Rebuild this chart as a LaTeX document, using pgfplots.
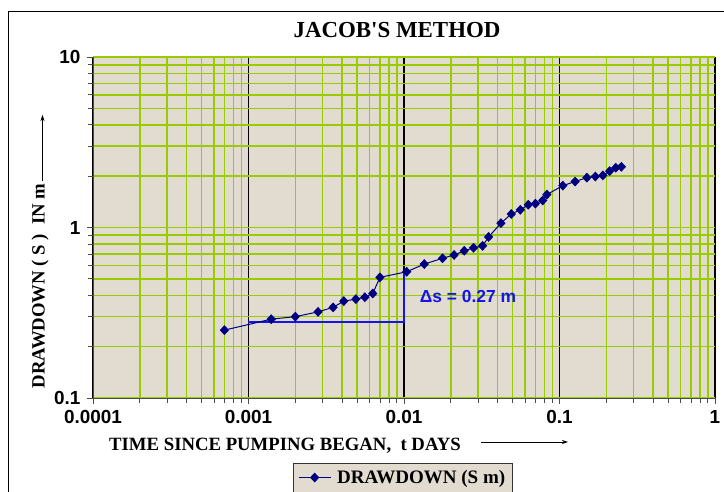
\documentclass[border=0pt]{standalone}
\usepackage{pgfplots}
\pgfplotsset{compat=1.18}
\usepackage{fontspec}
\setmainfont{Liberation Serif}
\setsansfont{Liberation Sans}
\newfontfamily\tnr{Liberation Serif}
\usetikzlibrary{arrows.meta}
\definecolor{bgbeige}{RGB}{226,220,208}
\definecolor{gridgreen}{RGB}{153,204,0}
\definecolor{navyd}{RGB}{0,0,128}
\definecolor{dsblue}{RGB}{20,20,235}
\begin{document}
\begin{tikzpicture}[x=1bp,y=1bp]
\useasboundingbox (0,0) rectangle (724,492);
\fill[white] (0,0) rectangle (724,492);
\draw[black, line width=1bp] (8,-30) rectangle (760,480);
\begin{axis}[
  at={(93bp,94bp)}, anchor=south west,
  scale only axis, width=622bp, height=341bp,
  xmode=log, ymode=log,
  xmin=0.0001, xmax=1, ymin=0.1, ymax=10,
  axis background/.style={fill=bgbeige},
  axis x line*=bottom, axis y line*=left,
  axis line style={black!70, line width=0.8bp},
  xtick={0.0001,0.001,0.01,0.1,1},
  xticklabels={0.0001,0.001,0.01,0.1,1},
  ytick={0.1,1,10},
  yticklabels={0.1,1,10},
  minor xtick={0.0002,0.0003,0.0004,0.0005,0.0006,0.0007,0.0008,0.0009,
               0.002,0.003,0.004,0.005,0.006,0.007,0.008,0.009,
               0.02,0.03,0.04,0.05,0.06,0.07,0.08,0.09,
               0.2,0.3,0.4,0.5,0.6,0.7,0.8,0.9},
  minor ytick={0.2,0.3,0.4,0.5,0.6,0.7,0.8,0.9,2,3,4,5,6,7,8,9},
  grid=both,
  major x grid style={black, line width=1.1bp},
  major y grid style={gridgreen, line width=1.6bp},
  minor grid style={gridgreen, line width=1.6bp},
  tick align=outside,
  major tick length=6bp, minor tick length=5bp,
  tick style={black!70, line width=0.8bp},
  ticklabel style={font=\fontsize{19}{19}\selectfont\sffamily\bfseries},
  xticklabel style={yshift=-3bp},
  yticklabel style={xshift=-3bp},
  legend style={at={(0.3215,-0.1906)}, anchor=north west, draw=black!80,
    fill=bgbeige, font=\fontsize{19.1}{19.1}\selectfont\tnr\bfseries,
    inner xsep=5bp, inner ysep=5bp},
  legend image code/.code={\draw[mark repeat=2,mark phase=2,#1] plot coordinates {(0bp,0bp) (16bp,0bp) (32bp,0bp)};},
]
\addplot[dsblue, line width=1.6bp, no marks, forget plot] coordinates {(0.001,0.28) (0.01,0.28) (0.01,0.55)};
\addplot[navyd, line width=1bp, mark=diamond*, mark size=4.2bp,
  mark options={fill=navyd, xscale=1.25, solid}] coordinates {
(0.0007,0.25) (0.0014,0.29) (0.002,0.30) (0.0028,0.32) (0.0035,0.34) (0.0041,0.37)
(0.0049,0.38) (0.0056,0.39) (0.0063,0.41) (0.007,0.51) (0.0104,0.55) (0.0135,0.61)
(0.0177,0.66) (0.021,0.69) (0.0244,0.73) (0.028,0.76) (0.032,0.78) (0.035,0.88)
(0.042,1.06) (0.049,1.2) (0.056,1.27) (0.063,1.36) (0.07,1.38) (0.078,1.44)
(0.083,1.56) (0.105,1.76) (0.126,1.86) (0.15,1.96) (0.17,1.99) (0.19,2.02)
(0.21,2.14) (0.23,2.24) (0.25,2.27)};
\addlegendentry{\hspace{4bp}DRAWDOWN (S m)}
\end{axis}
\node[font=\fontsize{23}{23}\selectfont\tnr\bfseries] at (397,462) {JACOB'S METHOD};
\node[font=\fontsize{17.5}{17.5}\selectfont\sffamily\bfseries, text=dsblue] at (468,195.5) {Δs = 0.27 m};
\node[anchor=west, inner sep=0pt, font=\fontsize{18.8}{18.8}\selectfont\tnr\bfseries] at (109,46) {TIME SINCE PUMPING BEGAN,\ \ t DAYS};
\draw[-{Stealth[length=6bp,width=4bp]}, line width=0.8bp] (481,50) -- (568,50);
\node[rotate=90, inner sep=0pt, font=\fontsize{18.8}{18.8}\selectfont\tnr\bfseries] at (40,206) {DRAWDOWN ( S )\ \ IN m};
\draw[-{Stealth[length=6bp,width=4bp]}, line width=0.8bp] (42.5,311) -- (42.5,377);
\end{tikzpicture}
\end{document}
